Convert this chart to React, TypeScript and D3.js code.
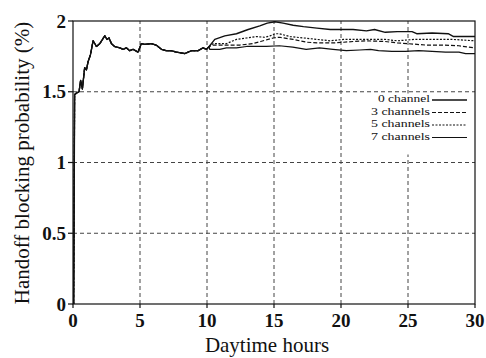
import React from 'react';
import * as d3 from 'd3';

const W = 486;
const H = 358;
const margin = { top: 21, right: 11, bottom: 54, left: 73 };

const xTicks = [0, 5, 10, 15, 20, 25, 30];
const yTicks = [0, 0.5, 1, 1.5, 2];
const yTickLabels = ['0', '0.5', '1', '1.5', '2'];

// shared start (all schemes coincide until about hour 10)
const commonHours = [0.05, 0.12, 0.25, 0.45, 0.57, 0.7, 0.87, 1.0, 1.12, 1.3, 1.5, 1.75, 2.0, 2.37, 2.54, 2.69, 2.87, 3.1, 3.5, 3.73, 3.99, 4.23, 4.48, 4.85, 5.1, 5.35, 5.85, 6.2, 6.6, 6.97, 7.35, 7.72, 8.34, 8.84, 9.33, 9.7, 9.96, 10.16];
const commonValues = [0, 1.48, 1.49, 1.5, 1.58, 1.52, 1.67, 1.655, 1.71, 1.76, 1.86, 1.82, 1.84, 1.895, 1.87, 1.88, 1.84, 1.82, 1.81, 1.8, 1.81, 1.79, 1.8, 1.78, 1.84, 1.835, 1.84, 1.83, 1.8, 1.79, 1.79, 1.78, 1.77, 1.79, 1.79, 1.81, 1.8, 1.82];

const hours0 = [10.58, 11.33, 12.2, 13.07, 13.94, 14.5, 15.07, 15.68, 16.43, 17.2, 18.2, 19.2, 20, 20.9, 21.9, 22.5, 23.3, 24.2, 25.3, 25.65, 26.8, 28, 28.4, 30];
const values0 = [1.87, 1.895, 1.91, 1.94, 1.965, 1.985, 1.995, 1.985, 1.97, 1.96, 1.95, 1.94, 1.94, 1.94, 1.93, 1.94, 1.92, 1.925, 1.925, 1.91, 1.915, 1.91, 1.89, 1.89];

const hours5 = [10.45, 11.45, 12.2, 12.95, 13.7, 14.3, 14.7, 15.07, 15.4, 16.2, 17.2, 18.2, 19.2, 20.2, 21.4, 22.2, 23.3, 24.2, 25.5, 26.8, 28.3, 30];
const values5 = [1.84, 1.84, 1.87, 1.88, 1.89, 1.885, 1.895, 1.91, 1.91, 1.89, 1.88, 1.87, 1.86, 1.87, 1.87, 1.87, 1.87, 1.86, 1.87, 1.87, 1.87, 1.86];

const hours3 = [10.45, 11.45, 12.45, 13.4, 14.0, 14.95, 15.4, 16.43, 17.43, 18.4, 19.4, 20.2, 20.9, 21.9, 23.3, 24.2, 25, 26.3, 27.5, 28.8, 30];
const values3 = [1.83, 1.83, 1.83, 1.84, 1.855, 1.88, 1.885, 1.87, 1.85, 1.845, 1.845, 1.85, 1.855, 1.86, 1.855, 1.845, 1.84, 1.83, 1.83, 1.825, 1.81];

const hours7 = [10.2, 10.95, 11.45, 12.2, 12.95, 14.44, 15.4, 16.4, 17.4, 18.4, 19.4, 20.4, 21.4, 22.2, 22.8, 23.8, 24.8, 25.8, 26.8, 27.8, 28.8, 29.3, 30];
const values7 = [1.8, 1.8, 1.81, 1.81, 1.82, 1.82, 1.825, 1.815, 1.8, 1.81, 1.8, 1.79, 1.795, 1.8, 1.79, 1.785, 1.785, 1.79, 1.785, 1.78, 1.78, 1.77, 1.77];

const series = [
  { label: '0 channel', hours: hours0, values: values0, dash: null, width: 1.4 },
  { label: '3 channels', hours: hours3, values: values3, dash: '4,2', width: 1.2 },
  { label: '5 channels', hours: hours5, values: values5, dash: '2,1.5', width: 1.2 },
  { label: '7 channels', hours: hours7, values: values7, dash: null, width: 1.2 },
];

const serif = '"Liberation Serif", "Times New Roman", serif';

export default function App() {
  const x = d3.scaleLinear().domain([0, 30]).range([margin.left, W - margin.right]);
  const y = d3.scaleLinear().domain([0, 2]).range([H - margin.bottom, margin.top]);

  const line = d3.line<[number, number]>()
    .x(d => x(d[0]))
    .y(d => y(d[1]));

  const common: [number, number][] = commonHours.map((h, i) => [h, commonValues[i]]);

  const legendX = 430;
  const legendY0 = 102;
  const legendStep = 12.5;

  return (
    <div style={{ position: 'fixed', left: 0, top: 0 }}>
      <svg width={W} height={H} style={{ display: 'block', background: '#fff' }}>
        {/* grid */}
        {xTicks.filter(t => t > 0 && t < 30).map(t => (
          <line key={'gx' + t} x1={x(t)} x2={x(t)} y1={y(0)} y2={y(2)}
            stroke="#444" strokeWidth={1} strokeDasharray="4,3" />
        ))}
        {yTicks.filter(t => t > 0 && t < 2).map(t => (
          <line key={'gy' + t} x1={x(0)} x2={x(30)} y1={y(t)} y2={y(t)}
            stroke="#444" strokeWidth={1} strokeDasharray="4,3" />
        ))}

        {/* curves */}
        {series.map(s => {
          const pts: [number, number][] = common.concat(s.hours.map((h, i) => [h, s.values[i]] as [number, number]));
          return (
            <path key={s.label} d={line(pts) || ''} fill="none" stroke="#111"
              strokeWidth={s.width} strokeDasharray={s.dash || undefined} strokeLinejoin="round" />
          );
        })}

        {/* legend */}
        <rect x={354} y={93.5} width={120} height={61} fill="#fff" />
        {series.map((s, i) => {
          const ly = legendY0 + i * legendStep;
          return (
            <g key={'lg' + s.label}>
              <text x={legendX} y={ly} textAnchor="end" fontFamily={serif} fontSize={11.2} fill="#111"
                textLength={i === 0 ? 52 : 59} lengthAdjust="spacingAndGlyphs">{s.label}</text>
              <line x1={legendX + 2} x2={legendX + 37} y1={ly - 2} y2={ly - 2} stroke="#111"
                strokeWidth={s.width} strokeDasharray={s.dash || undefined} />
            </g>
          );
        })}

        {/* frame */}
        <rect x={x(0)} y={y(2)} width={x(30) - x(0)} height={y(0) - y(2)} fill="none" stroke="#111" strokeWidth={1.2} />

        {/* ticks and labels */}
        {yTicks.map((t, i) => (
          <g key={'yt' + t}>
            <line x1={x(0) - 5} x2={x(0)} y1={y(t)} y2={y(t)} stroke="#111" strokeWidth={1.2} />
            <text x={x(0) - 7} y={y(t)} dy="0.35em" textAnchor="end" fontFamily={serif}
              fontWeight="bold" fontSize={19} fill="#111">{yTickLabels[i]}</text>
          </g>
        ))}
        {xTicks.map(t => (
          <g key={'xt' + t}>
            <line x1={x(t)} x2={x(t)} y1={y(0)} y2={y(0) + 4} stroke="#111" strokeWidth={1.2} />
            <text x={x(t)} y={y(0) + 23} textAnchor="middle" fontFamily={serif}
              fontWeight="bold" fontSize={19} fill="#111">{t}</text>
          </g>
        ))}

        {/* axis titles */}
        <text x={267} y={352} textAnchor="middle" fontFamily={serif} fontSize={21} fill="#111">Daytime hours</text>
        <text transform="translate(29,163) rotate(-90)" textAnchor="middle" fontFamily={serif}
          fontSize={21} fill="#111">Handoff blocking probability (%)</text>
      </svg>
    </div>
  );
}
